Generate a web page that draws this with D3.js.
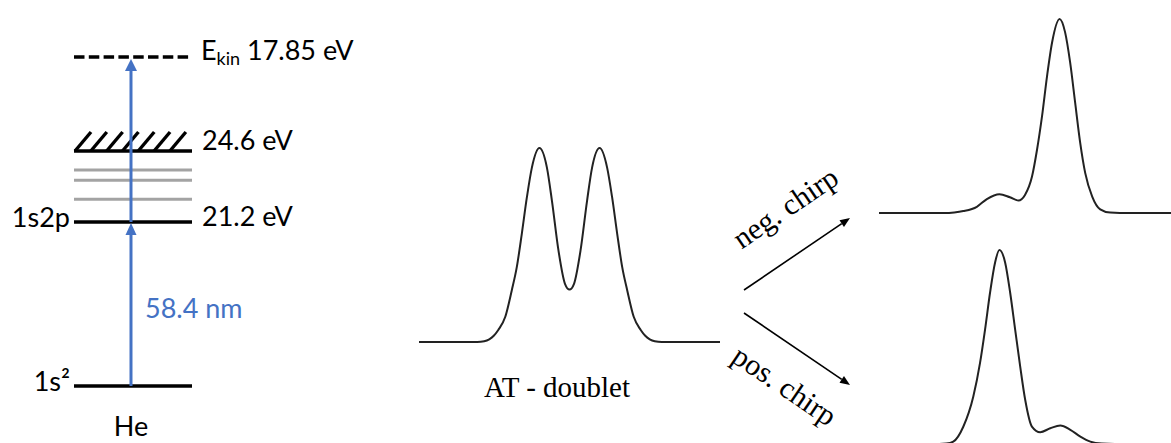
<!DOCTYPE html>
<html>
<head>
<meta charset="utf-8">
<script src="https://cdn.jsdelivr.net/npm/d3@7"></script>
<style>
  body { margin: 0; background: #fff; }
  svg { display: block; }
</style>
</head>
<body>
<svg id="fig" width="1171" height="443"></svg>
<script>
// ---- Helium level scheme ----
const levelNames = ["1s²", "1s2p"];
const levelEnergies = [0, 21.2];                 // eV
const rydbergEnergies = [22.29, 23.2, 23.69];    // eV, states below threshold
const ionizationEnergy = 24.6;                   // eV
const kineticEnergy = 17.85;                     // eV
const photonLabel = "58.4 nm";
const atomLabel = "He";

// ---- Photoelectron spectra on a shared relative energy axis ----
const doubletEnergy = [-15, -9.2, -8.5, -8, -7.55, -7.1, -6.4, -5.75, -5.25, -4.75, -4.25, -3.75, -3.0, -2.25, -1.75, -1.1, -0.45, 0,
                       0.45, 1.1, 1.75, 2.25, 3.0, 3.75, 4.25, 4.75, 5.25, 5.75, 6.4, 7.1, 7.55, 8, 8.5, 9.2, 15];
const doubletIntensity = [0, 0, 0.004, 0.014, 0.032, 0.062, 0.13, 0.267, 0.387, 0.559, 0.745, 0.899, 1.0, 0.899, 0.728, 0.472, 0.30, 0.27,
                          0.30, 0.472, 0.728, 0.899, 1.0, 0.899, 0.745, 0.559, 0.387, 0.267, 0.13, 0.062, 0.032, 0.014, 0.004, 0, 0];

const negChirpEnergy = [-15, -8.5, -7.5, -6.6, -5.25, -4.25, -3.0, -1.95, -1.1, -0.45, 0.25, 0.75, 1.25, 1.75, 2.25, 3.0,
                        3.55, 4.05, 4.55, 5.05, 5.55, 6.25, 7.05, 8.05, 9, 15];
const negChirpIntensity = [0, 0, 0.003, 0.01, 0.032, 0.072, 0.097, 0.081, 0.064, 0.093, 0.188, 0.326, 0.499, 0.706, 0.879, 1.0,
                           0.931, 0.776, 0.569, 0.363, 0.207, 0.085, 0.019, 0.002, 0, 0];

const posChirpEnergy = [-15, -9, -8.3, -7.6, -6.6, -5.6, -4.93, -4.43, -3.93, -3.43, -3.0, -2.43, -1.93, -1.43, -0.93, -0.43,
                        0.24, 1.07, 2.07, 3.07, 4.07, 5.07, 6.07, 7.2, 8.5, 15];
const posChirpIntensity = [0, 0, 0.002, 0.012, 0.089, 0.245, 0.418, 0.59, 0.781, 0.936, 1.0, 0.936, 0.781, 0.59, 0.40, 0.228,
                           0.09, 0.061, 0.081, 0.095, 0.073, 0.038, 0.012, 0.002, 0, 0];

const doubletTitle = "AT - doublet";
const chirpLabels = ["neg. chirp", "pos. chirp"];

// ---- drawing ----
const svg = d3.select("#fig");
const sans = "Lato, 'Open Sans', sans-serif";
const serif = "'Liberation Serif', 'Times New Roman', serif";
const blue = "#4472c4";

// level diagram: schematic (piecewise) energy axis
const yLevel = d3.scaleLinear()
  .domain([levelEnergies[0], levelEnergies[1], ionizationEnergy, ionizationEnergy + kineticEnergy])
  .range([386, 222, 151, 57]);
const xLevel = d3.scaleLinear().domain([0, 1]).range([74, 192]);

const diag = svg.append("g").attr("class", "levels");

// Rydberg series (gray)
diag.selectAll("line.ryd").data(rydbergEnergies).join("line")
  .attr("class", "ryd")
  .attr("x1", xLevel(0)).attr("x2", xLevel(1))
  .attr("y1", d => yLevel(d)).attr("y2", d => yLevel(d))
  .attr("stroke", "#a3a3a3").attr("stroke-width", 3);

// bound levels
diag.selectAll("line.lvl").data(levelEnergies).join("line")
  .attr("class", "lvl")
  .attr("x1", xLevel(0)).attr("x2", xLevel(1))
  .attr("y1", d => yLevel(d)).attr("y2", d => yLevel(d))
  .attr("stroke", "#000").attr("stroke-width", 3.6);

// ionization threshold with hatching
const yIon = yLevel(ionizationEnergy);
diag.append("line")
  .attr("x1", xLevel(0)).attr("x2", xLevel(1))
  .attr("y1", yIon).attr("y2", yIon)
  .attr("stroke", "#000").attr("stroke-width", 3.6);
diag.selectAll("line.hatch").data(d3.range(7)).join("line")
  .attr("class", "hatch")
  .attr("x1", i => xLevel(i * 0.134) + 1).attr("y1", yIon)
  .attr("x2", i => xLevel(i * 0.134) + 17).attr("y2", yIon - 19)
  .attr("stroke", "#000").attr("stroke-width", 3.4);

// continuum level reached (dashed)
const yFinal = yLevel(ionizationEnergy + kineticEnergy);
diag.append("line")
  .attr("x1", xLevel(0)).attr("x2", xLevel(1))
  .attr("y1", yFinal).attr("y2", yFinal)
  .attr("stroke", "#000").attr("stroke-width", 3.4)
  .attr("stroke-dasharray", "10.5,4.3");

// excitation arrows (blue)
const xArrow = xLevel(0.483);
function upArrow(g, yFrom, yTo, color, w, headL, headW) {
  g.append("line")
    .attr("x1", xArrow).attr("x2", xArrow)
    .attr("y1", yFrom).attr("y2", yTo + headL - 1)
    .attr("stroke", color).attr("stroke-width", w);
  g.append("path")
    .attr("d", `M${xArrow},${yTo} L${xArrow + headW / 2},${yTo + headL} L${xArrow - headW / 2},${yTo + headL} Z`)
    .attr("fill", color);
}
upArrow(diag, yLevel(levelEnergies[0]), yLevel(levelEnergies[1]) + 1, blue, 3, 12, 11);
upArrow(diag, yLevel(levelEnergies[1]), yFinal + 2, blue, 3, 12, 12);

// level labels
const fs = 27;
diag.selectAll("text.lname").data(levelNames).join("text")
  .attr("class", "lname")
  .attr("x", xLevel(0) - 4)
  .attr("y", (d, i) => yLevel(levelEnergies[i]) + 5)
  .attr("text-anchor", "end")
  .attr("font-family", sans).attr("font-size", fs).attr("fill", "#000")
  .text(d => d);

diag.append("text")
  .attr("x", 202).attr("y", yLevel(levelEnergies[1]) + 4)
  .attr("font-family", sans).attr("font-size", fs)
  .text(`${levelEnergies[1]} eV`);
diag.append("text")
  .attr("x", 202).attr("y", yIon - 1)
  .attr("font-family", sans).attr("font-size", fs)
  .text(`${ionizationEnergy} eV`);
const ek = diag.append("text")
  .attr("x", 201).attr("y", yFinal + 3)
  .attr("font-family", sans).attr("font-size", fs);
ek.append("tspan").text("E");
ek.append("tspan").attr("font-size", 18).attr("dy", 5).text("kin");
ek.append("tspan").attr("dy", -5).text(` ${kineticEnergy} eV`);

diag.append("text")
  .attr("x", xArrow + 14)
  .attr("y", (yLevel(levelEnergies[0]) + yLevel(levelEnergies[1])) / 2 + 14)
  .attr("font-family", sans).attr("font-size", fs).attr("fill", blue)
  .text(photonLabel);
diag.append("text")
  .attr("x", xArrow).attr("y", yLevel(levelEnergies[0]) + 50)
  .attr("text-anchor", "middle")
  .attr("font-family", sans).attr("font-size", fs)
  .text(atomLabel);

// ---- spectra ----
const panelH = 194;
const spectra = [
  { x0: 419, x1: 720, base: 342, e: doubletEnergy, v: doubletIntensity },
  { x0: 879, x1: 1180, base: 213, e: negChirpEnergy, v: negChirpIntensity },
  { x0: 879, x1: 1180, base: 444, e: posChirpEnergy, v: posChirpIntensity }
];
spectra.forEach(p => {
  const x = d3.scaleLinear().domain([-15, 15]).range([p.x0, p.x1]);
  const y = d3.scaleLinear().domain([0, 1]).range([p.base, p.base - panelH]);
  const line = d3.line()
    .x((d, i) => x(p.e[i]))
    .y(d => y(d))
    .curve(d3.curveMonotoneX);
  svg.append("path")
    .datum(p.v)
    .attr("d", line)
    .attr("fill", "none")
    .attr("stroke", "#222")
    .attr("stroke-width", 2)
    .attr("stroke-linejoin", "round");
});

svg.append("text")
  .attr("x", 557).attr("y", 397)
  .attr("text-anchor", "middle")
  .attr("font-family", serif).attr("font-size", 29)
  .text(doubletTitle);

// chirp arrows
function chirpArrow(x1, y1, x2, y2) {
  const a = Math.atan2(y2 - y1, x2 - x1);
  const L = 10, W = 4;
  const bx = x2 - L * Math.cos(a), by = y2 - L * Math.sin(a);
  svg.append("line")
    .attr("x1", x1).attr("y1", y1).attr("x2", bx).attr("y2", by)
    .attr("stroke", "#000").attr("stroke-width", 1.6);
  svg.append("path")
    .attr("d", `M${x2},${y2} L${bx - W * Math.sin(a)},${by + W * Math.cos(a)} L${bx + W * Math.sin(a)},${by - W * Math.cos(a)} Z`)
    .attr("fill", "#000");
}
chirpArrow(744, 290, 850, 218);
chirpArrow(744, 313, 850, 385);

const ang = Math.atan2(72, 106) * 180 / Math.PI;
svg.append("text")
  .attr("transform", `translate(791,216) rotate(${-ang})`)
  .attr("text-anchor", "middle")
  .attr("font-family", serif).attr("font-size", 30)
  .text(chirpLabels[0]);
svg.append("text")
  .attr("transform", `translate(779,394) rotate(${ang})`)
  .attr("text-anchor", "middle")
  .attr("font-family", serif).attr("font-size", 30)
  .text(chirpLabels[1]);
</script>
</body>
</html>
